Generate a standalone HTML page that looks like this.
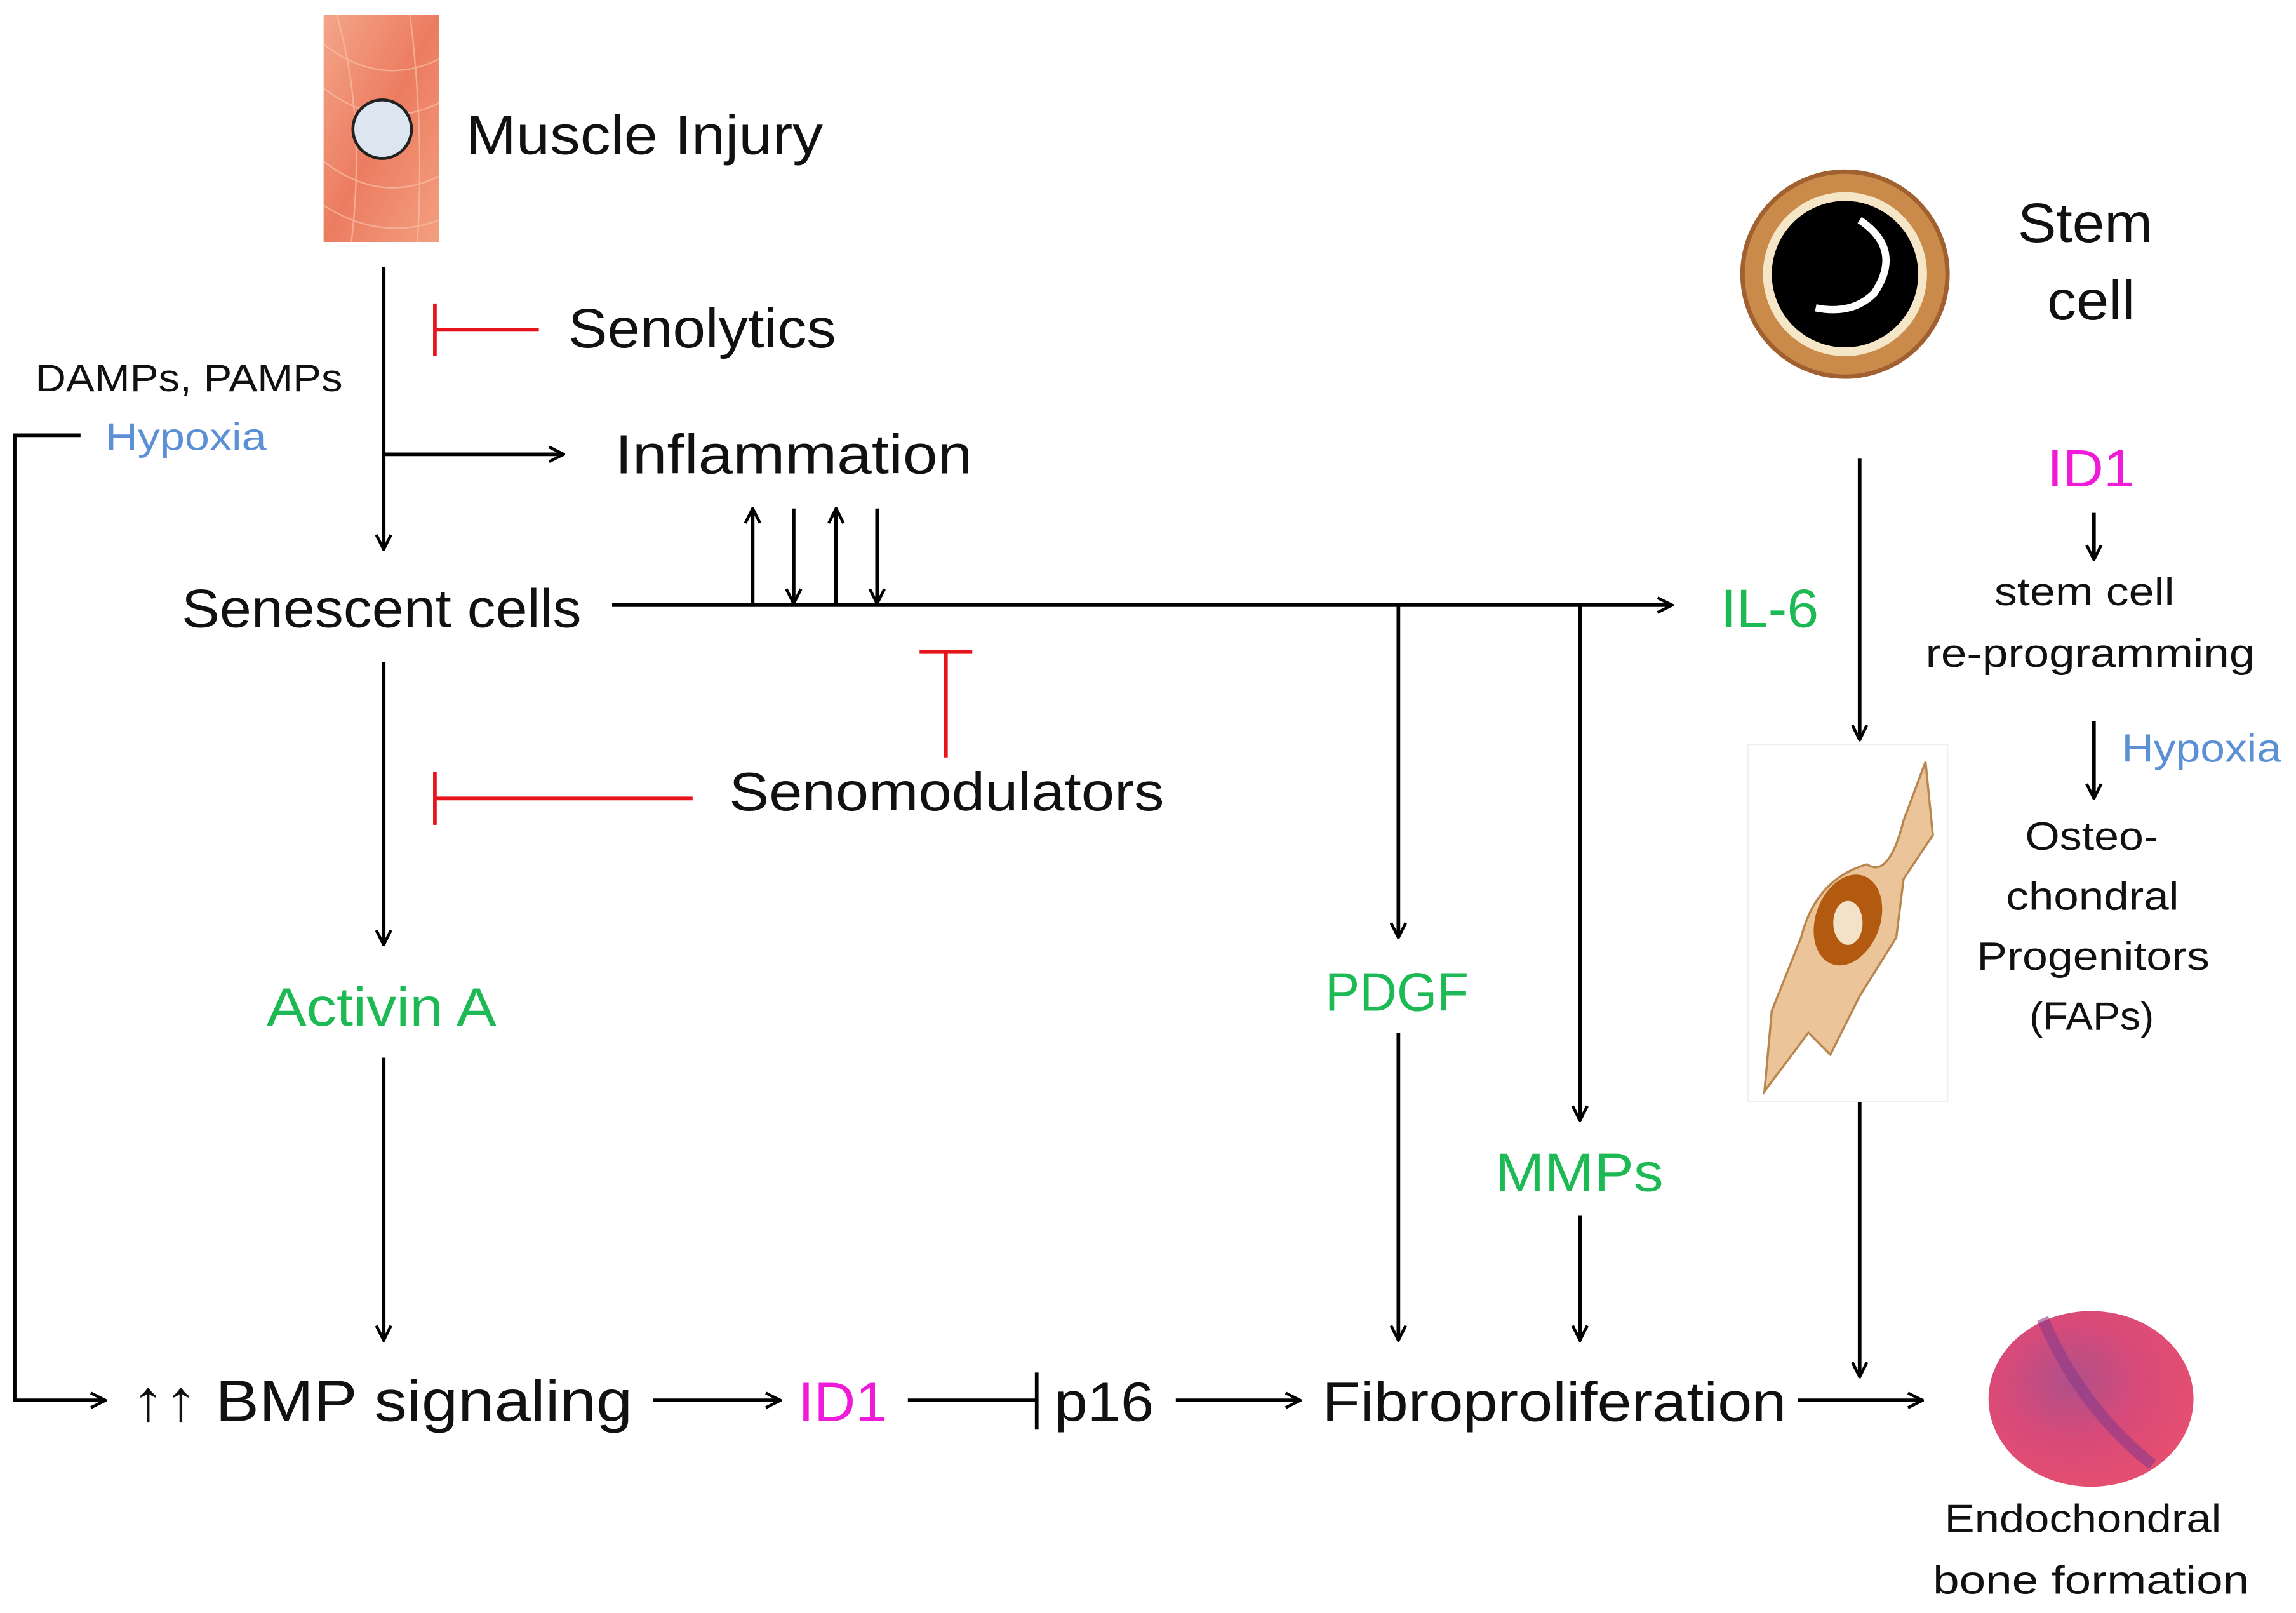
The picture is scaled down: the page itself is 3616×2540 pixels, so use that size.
<!DOCTYPE html>
<html><head><meta charset="utf-8"><style>
html,body{margin:0;padding:0;background:#fff;width:3616px;height:2540px;overflow:hidden}
svg{display:block}
text{font-family:"Liberation Sans",sans-serif;fill:#111}
</style></head><body>
<svg width="3616" height="2540" viewBox="0 0 1568 1101" xmlns="http://www.w3.org/2000/svg">
<defs>
<marker id="a" viewBox="0 0 12 12" refX="11" refY="6" markerWidth="12" markerHeight="12" markerUnits="userSpaceOnUse" orient="auto">
<path d="M1,1 L11,6 L1,11" fill="none" stroke="#000" stroke-width="2"/></marker>
<linearGradient id="mus" x1="0" y1="0" x2="1" y2="1">
<stop offset="0" stop-color="#f4a58a"/><stop offset="0.5" stop-color="#ec7c60"/><stop offset="1" stop-color="#f3a080"/></linearGradient>
<radialGradient id="bone" cx="0.4" cy="0.4" r="0.7"><stop offset="0" stop-color="#b0508a"/><stop offset="0.5" stop-color="#d94a78"/><stop offset="1" stop-color="#e8506e"/></radialGradient>
</defs>
<g stroke="#000" stroke-width="2.5" fill="none">
<line x1="262" y1="182" x2="262" y2="375" marker-end="url(#a)"/>
<line x1="262" y1="310" x2="385" y2="310" marker-end="url(#a)"/>
<polyline points="55,297 10,297 10,956 72,956" marker-end="url(#a)"/>
<line x1="514" y1="412" x2="514" y2="347" marker-end="url(#a)"/>
<line x1="542" y1="347" x2="542" y2="412" marker-end="url(#a)"/>
<line x1="571" y1="412" x2="571" y2="347" marker-end="url(#a)"/>
<line x1="599" y1="347" x2="599" y2="412" marker-end="url(#a)"/>
<line x1="418" y1="413" x2="1142" y2="413" marker-end="url(#a)"/>
<line x1="262" y1="452" x2="262" y2="645" marker-end="url(#a)"/>
<line x1="955" y1="413" x2="955" y2="640" marker-end="url(#a)"/>
<line x1="955" y1="705" x2="955" y2="915" marker-end="url(#a)"/>
<line x1="1079" y1="413" x2="1079" y2="765" marker-end="url(#a)"/>
<line x1="1079" y1="830" x2="1079" y2="915" marker-end="url(#a)"/>
<line x1="262" y1="722" x2="262" y2="915" marker-end="url(#a)"/>
<line x1="446" y1="956" x2="533" y2="956" marker-end="url(#a)"/>
<line x1="620" y1="956" x2="708" y2="956"/>
<line x1="708" y1="937" x2="708" y2="976"/>
<line x1="803" y1="956" x2="888" y2="956" marker-end="url(#a)"/>
<line x1="1228" y1="956" x2="1313" y2="956" marker-end="url(#a)"/>
<line x1="1270" y1="313" x2="1270" y2="505" marker-end="url(#a)"/>
<line x1="1270" y1="752" x2="1270" y2="940" marker-end="url(#a)"/>
<line x1="1430" y1="350" x2="1430" y2="382" marker-end="url(#a)"/>
<line x1="1430" y1="492" x2="1430" y2="545" marker-end="url(#a)"/>
</g>
<g stroke="#e8141c" stroke-width="2.5">
<line x1="297" y1="207" x2="297" y2="243"/><line x1="297" y1="225" x2="368" y2="225"/>
<line x1="646" y1="445" x2="646" y2="517"/><line x1="628" y1="445" x2="664" y2="445"/>
<line x1="297" y1="527" x2="297" y2="563"/><line x1="297" y1="545" x2="473" y2="545"/>
</g>
<rect x="221" y="10" width="79" height="155" fill="url(#mus)"/>
<g stroke="#f8c0a8" stroke-width="1" fill="none" opacity="0.7">
<path d="M221,30 Q260,60 300,40"/><path d="M221,60 Q260,90 300,70"/><path d="M221,110 Q260,140 300,120"/><path d="M221,140 Q260,165 300,150"/><path d="M230,10 Q250,80 240,165"/><path d="M280,10 Q290,90 285,165"/>
</g>
<circle cx="261" cy="88" r="20" fill="#dde6f0" stroke="#222" stroke-width="2"/>
<circle cx="1260" cy="187" r="70" fill="#c98a4a" stroke="#a06030" stroke-width="3"/>
<circle cx="1260" cy="187" r="56" fill="#f5e6c8"/>
<circle cx="1260" cy="187" r="50" fill="#000"/>
<path d="M1270,150 Q1300,170 1280,200 Q1265,215 1240,210" stroke="#fff" stroke-width="5" fill="none"/>
<rect x="1194" y="508" width="136" height="244" fill="#fff" stroke="#eee"/>
<path d="M1315,520 L1300,560 Q1290,600 1275,590 Q1240,600 1230,640 L1210,690 L1205,745 L1235,705 L1250,720 L1270,680 L1295,640 L1300,600 L1320,570 Z" fill="#ebc49a" stroke="#b8864e" stroke-width="1.5"/>
<ellipse cx="1262" cy="628" rx="22" ry="32" fill="#b25a10" transform="rotate(20 1262 628)"/>
<ellipse cx="1262" cy="630" rx="10" ry="15" fill="#f3e2c8"/>
<ellipse cx="1428" cy="955" rx="70" ry="60" fill="url(#bone)"/>
<path d="M1395,900 Q1420,960 1470,1000" stroke="#8a3a8a" stroke-width="8" fill="none" opacity="0.6"/>
<g lengthAdjust="spacingAndGlyphs">
<text x="318" y="105" font-size="38" textLength="244" lengthAdjust="spacingAndGlyphs">Muscle Injury</text>
<text x="388" y="237" font-size="38" textLength="183" lengthAdjust="spacingAndGlyphs">Senolytics</text>
<text x="24" y="267" font-size="26" textLength="210" lengthAdjust="spacingAndGlyphs">DAMPs, PAMPs</text>
<text x="72" y="307" font-size="26" style="fill:#5b8fd6" textLength="110" lengthAdjust="spacingAndGlyphs">Hypoxia</text>
<text x="420" y="323" font-size="38" textLength="244" lengthAdjust="spacingAndGlyphs">Inflammation</text>
<text x="124" y="428" font-size="37" textLength="273" lengthAdjust="spacingAndGlyphs">Senescent cells</text>
<text x="1175" y="428" font-size="37" style="fill:#1db954" textLength="67" lengthAdjust="spacingAndGlyphs">IL-6</text>
<text x="498" y="553" font-size="37" textLength="297" lengthAdjust="spacingAndGlyphs">Senomodulators</text>
<text x="182" y="700" font-size="37" style="fill:#1db954" textLength="157" lengthAdjust="spacingAndGlyphs">Activin A</text>
<text x="905" y="690" font-size="37" style="fill:#1db954" textLength="98" lengthAdjust="spacingAndGlyphs">PDGF</text>
<text x="1021" y="813" font-size="37" style="fill:#1db954" textLength="115" lengthAdjust="spacingAndGlyphs">MMPs</text>
<text x="90" y="970" font-size="40" textLength="342" lengthAdjust="spacingAndGlyphs">↑↑ BMP signaling</text>
<text x="545" y="970" font-size="38" style="fill:#f01bd8" textLength="61" lengthAdjust="spacingAndGlyphs">ID1</text>
<text x="720" y="970" font-size="38" textLength="68" lengthAdjust="spacingAndGlyphs">p16</text>
<text x="903" y="970" font-size="38" textLength="317" lengthAdjust="spacingAndGlyphs">Fibroproliferation</text>
<text x="1378" y="165" font-size="38" textLength="92" lengthAdjust="spacingAndGlyphs">Stem</text>
<text x="1398" y="218" font-size="38" textLength="60" lengthAdjust="spacingAndGlyphs">cell</text>
<text x="1398" y="332" font-size="36" style="fill:#f01bd8" textLength="60" lengthAdjust="spacingAndGlyphs">ID1</text>
<text x="1362" y="413" font-size="27" textLength="123" lengthAdjust="spacingAndGlyphs">stem cell</text>
<text x="1315" y="455" font-size="27" textLength="225" lengthAdjust="spacingAndGlyphs">re-programming</text>
<text x="1449" y="520" font-size="27" style="fill:#5b8fd6" textLength="109" lengthAdjust="spacingAndGlyphs">Hypoxia</text>
<text x="1383" y="580" font-size="27" textLength="91" lengthAdjust="spacingAndGlyphs">Osteo-</text>
<text x="1370" y="621" font-size="27" textLength="118" lengthAdjust="spacingAndGlyphs">chondral</text>
<text x="1350" y="662" font-size="27" textLength="159" lengthAdjust="spacingAndGlyphs">Progenitors</text>
<text x="1386" y="703" font-size="27" textLength="85" lengthAdjust="spacingAndGlyphs">(FAPs)</text>
<text x="1328" y="1046" font-size="27" textLength="189" lengthAdjust="spacingAndGlyphs">Endochondral</text>
<text x="1320" y="1088" font-size="27" textLength="216" lengthAdjust="spacingAndGlyphs">bone formation</text>
</g>
</svg>
</body></html>
